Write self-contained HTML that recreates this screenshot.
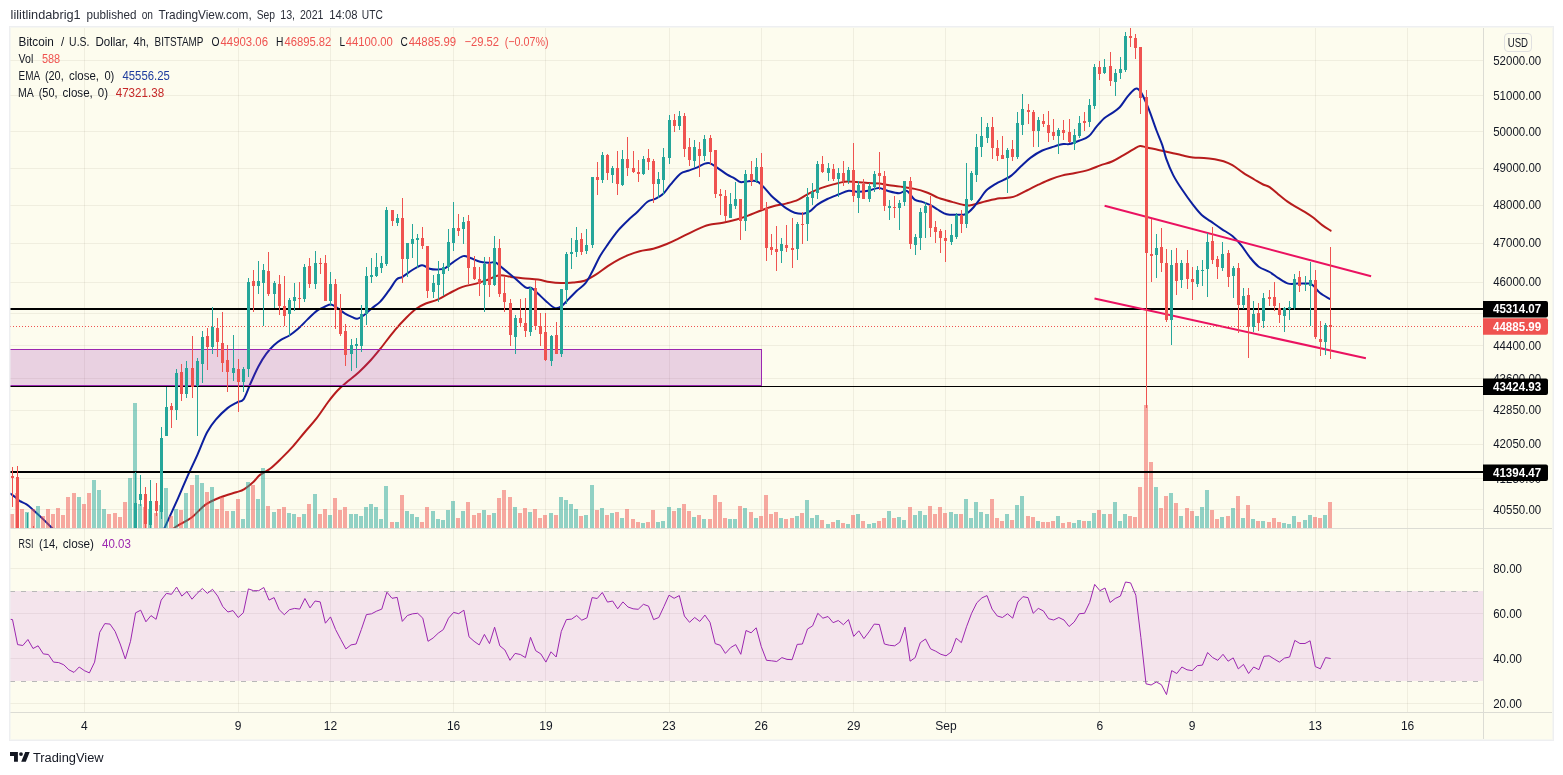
<!DOCTYPE html>
<html lang="en"><head><meta charset="utf-8"><title>BTCUSD 4h chart</title>
<style>html,body{margin:0;padding:0;background:#fff}body{width:1563px;height:775px;overflow:hidden}</style></head>
<body>
<svg width="1563" height="775" viewBox="0 0 1563 775" style="display:block">
<defs><clipPath id="cm"><rect x="10" y="28" width="1473" height="500"/></clipPath><clipPath id="cr"><rect x="10" y="529" width="1473" height="183"/></clipPath></defs>
<rect width="1563" height="775" fill="#ffffff"/>
<rect x="9" y="26" width="1545" height="715" rx="1.5" fill="#eeeff1"/>
<rect x="10" y="27" width="1543" height="713" fill="#fdfcee"/>
<path d="M84.5 28V712M238.5 28V712M330.5 28V712M453.5 28V712M545.5 28V712M669.5 28V712M761.5 28V712M853.5 28V712M945.5 28V712M1099.5 28V712M1192.5 28V712M1315.5 28V712M1407.5 28V712" stroke="rgba(130,120,100,0.1)" stroke-width="1" fill="none" shape-rendering="crispEdges"/>
<path d="M10 60.5H1483M10 95.5H1483M10 131.5H1483M10 168.5H1483M10 205.5H1483M10 243.5H1483M10 282.5H1483M10 313.5H1483M10 345.5H1483M10 378.5H1483M10 410.5H1483M10 444.5H1483M10 478.5H1483M10 509.5H1483M10 568.5H1483M10 613.5H1483M10 658.5H1483M10 703.5H1483" stroke="rgba(130,120,100,0.1)" stroke-width="1" fill="none" shape-rendering="crispEdges"/>
<g clip-path="url(#cm)">
<path d="M171.0 533.0C171.7 532.0 171.8 529.8 175.2 527.2C178.6 524.6 186.7 521.2 191.7 517.5C196.7 513.8 200.4 508.3 205.2 504.9C210.0 501.5 215.5 499.3 220.7 497.2C225.9 495.1 232.3 493.6 236.2 492.3C240.1 491.0 241.0 491.2 243.9 489.4C246.8 487.6 250.9 484.1 253.6 481.7C256.3 479.3 257.3 477.0 260.0 474.9C262.7 472.8 266.4 471.6 270.0 468.8C273.6 466.0 277.7 461.9 281.6 458.1C285.5 454.3 289.3 450.5 293.2 446.1C297.1 441.8 301.0 436.6 304.9 432.0C308.8 427.4 312.6 423.4 316.5 418.4C320.4 413.4 324.6 406.7 328.1 402.0C331.7 397.3 334.6 393.7 337.8 390.3C341.0 386.9 343.9 384.7 347.5 381.6C351.1 378.6 355.2 375.6 359.1 372.0C363.0 368.4 367.1 364.2 370.7 360.3C374.2 356.4 376.4 353.7 380.4 348.7C384.4 343.7 390.5 335.3 394.9 330.1C399.2 324.9 402.9 321.1 406.5 317.5C410.1 313.9 413.0 311.1 416.2 308.8C419.4 306.5 422.2 305.0 425.8 303.5C429.4 302.0 433.6 301.4 437.5 299.7C441.4 298.0 444.9 295.4 449.1 293.3C453.3 291.2 458.1 288.5 462.6 286.9C467.1 285.3 472.0 284.8 476.2 283.6C480.4 282.4 483.9 281.1 487.8 279.7C491.7 278.3 495.5 275.8 499.4 275.3C503.3 274.8 507.1 276.4 511.0 276.9C514.9 277.4 518.1 277.9 522.6 278.3C527.1 278.8 533.6 279.0 538.1 279.6C542.6 280.2 545.8 281.5 549.7 282.1C553.6 282.7 557.4 283.0 561.3 283.1C565.2 283.2 569.1 282.9 573.0 282.5C576.9 282.1 580.7 282.2 584.6 280.8C588.5 279.4 592.3 276.8 596.2 274.4C600.1 271.9 603.8 268.7 607.8 266.1C611.8 263.5 616.6 260.7 620.0 258.9C623.4 257.1 624.8 256.4 628.1 255.1C631.4 253.8 635.5 252.3 639.7 251.2C643.9 250.1 648.8 249.9 653.3 248.7C657.8 247.5 662.6 245.7 666.8 244.0C671.0 242.3 674.5 240.5 678.4 238.6C682.3 236.7 686.2 234.7 690.1 232.8C694.0 230.9 698.5 228.8 701.7 227.4C704.9 226.1 705.9 225.5 709.4 224.7C712.9 223.9 718.4 223.7 722.9 222.8C727.4 221.9 732.3 220.7 736.5 219.5C740.7 218.3 743.9 217.2 748.1 215.6C752.3 214.0 757.5 211.8 761.7 210.2C765.9 208.6 769.1 207.4 773.3 206.3C777.5 205.2 782.6 204.5 786.8 203.4C791.0 202.3 794.5 201.4 798.4 199.6C802.3 197.8 806.2 194.8 810.1 192.8C814.0 190.9 817.8 189.3 821.6 187.9C825.5 186.5 829.3 185.4 833.2 184.4C837.1 183.4 841.0 182.1 844.9 181.7C848.8 181.3 852.6 181.9 856.5 182.1C860.4 182.3 864.2 182.9 868.1 183.1C872.0 183.3 875.8 183.1 879.7 183.5C883.6 183.9 887.4 185.0 891.3 185.6C895.2 186.2 899.1 186.4 903.0 187.0C906.9 187.6 910.7 188.0 914.6 188.9C918.5 189.8 922.3 190.8 926.2 192.2C930.1 193.6 935.2 196.5 937.8 197.6C940.4 198.7 939.5 198.2 942.0 199.0C944.5 199.8 949.2 201.1 952.9 202.1C956.5 203.1 961.1 204.4 963.9 205.0C966.6 205.6 967.2 205.6 969.4 205.4C971.6 205.2 974.4 204.4 977.1 203.7C979.9 203.0 982.1 202.2 985.9 201.3C989.7 200.4 995.1 199.0 999.7 198.3C1004.3 197.6 1008.8 198.2 1013.3 196.9C1017.8 195.6 1022.6 192.5 1026.8 190.5C1031.0 188.5 1034.5 186.5 1038.4 184.7C1042.3 182.9 1046.2 181.0 1050.1 179.5C1054.0 178.0 1057.5 176.7 1061.7 175.6C1065.9 174.5 1070.7 174.0 1075.2 173.1C1079.7 172.2 1084.5 171.2 1088.7 169.9C1092.9 168.6 1096.4 166.8 1100.3 165.4C1104.2 164.0 1108.1 163.2 1112.0 161.5C1115.9 159.8 1120.0 157.1 1123.6 155.1C1127.1 153.1 1130.6 150.8 1133.3 149.3C1136.0 147.8 1137.8 146.3 1140.0 146.0C1142.2 145.7 1143.7 146.8 1146.8 147.4C1149.9 148.1 1154.4 149.0 1158.4 149.9C1162.4 150.8 1167.1 151.8 1171.0 152.7C1174.9 153.6 1178.2 154.5 1181.9 155.3C1185.6 156.1 1189.2 157.1 1192.9 157.5C1196.6 157.9 1200.2 157.7 1203.9 158.0C1207.6 158.3 1211.5 158.8 1214.8 159.3C1218.1 159.9 1220.7 160.3 1223.6 161.3C1226.5 162.3 1229.1 163.3 1232.4 165.2C1235.7 167.1 1239.7 170.5 1243.3 172.9C1246.9 175.3 1251.0 177.6 1254.3 179.5C1257.6 181.4 1260.5 183.2 1263.1 184.5C1265.6 185.8 1267.0 185.4 1269.6 187.1C1272.1 188.8 1275.5 192.0 1278.4 194.4C1281.3 196.8 1284.3 199.3 1287.2 201.4C1290.1 203.5 1293.0 205.2 1295.9 206.9C1298.8 208.7 1301.8 210.1 1304.7 211.9C1307.6 213.7 1310.6 215.6 1313.5 217.8C1316.4 220.0 1319.4 223.0 1322.2 225.1C1325.0 227.2 1329.2 229.7 1330.6 230.6" stroke="#b71c1c" stroke-width="2" fill="none" stroke-linejoin="round" stroke-linecap="round"/>
<path d="M10.0 493.5C10.2 493.6 10.1 493.4 10.9 494.0C11.7 494.6 13.6 495.8 15.0 496.9C16.4 498.0 17.7 499.6 19.6 500.9C21.5 502.1 24.3 502.8 26.6 504.4C28.9 505.9 30.8 507.8 33.5 510.2C36.2 512.6 39.9 516.1 42.8 518.9C45.7 521.7 49.0 525.0 51.0 527.0C53.0 529.0 54.3 530.3 55.0 531.0" stroke="#0c1f9e" stroke-width="2" fill="none" stroke-linejoin="round"/>
<path d="M162.5 533.0C162.9 532.0 162.3 533.0 164.9 527.2C167.5 521.4 174.4 506.3 178.1 498.1C181.8 489.9 183.6 485.1 186.8 477.8C190.0 470.6 194.1 462.2 197.5 454.6C200.9 447.0 204.0 438.1 207.1 432.3C210.2 426.5 212.4 423.7 215.8 419.7C219.2 415.7 223.9 411.0 227.5 408.1C231.1 405.2 234.4 403.8 237.1 402.3C239.8 400.9 241.2 402.6 243.5 399.4C245.8 396.2 248.2 388.5 250.7 383.0C253.2 377.5 255.8 371.4 258.4 366.5C261.0 361.6 263.6 357.4 266.2 353.9C268.8 350.3 271.3 347.6 273.9 345.2C276.5 342.8 279.1 341.0 281.7 339.4C284.3 337.8 286.7 337.3 289.4 335.5C292.1 333.7 295.0 331.5 298.1 328.8C301.2 326.1 304.6 322.2 307.8 319.1C311.0 316.0 314.6 312.5 317.5 310.4C320.4 308.3 322.9 307.5 325.2 306.5C327.4 305.5 329.1 304.4 331.0 304.6C332.9 304.8 334.5 306.1 336.8 307.5C339.1 308.9 342.0 311.7 344.6 313.3C347.2 314.9 350.2 316.2 352.3 317.1C354.4 318.0 355.3 319.0 357.2 318.7C359.1 318.4 361.5 316.9 363.9 315.2C366.3 313.5 369.0 310.7 371.7 308.4C374.4 306.1 377.4 304.6 380.3 301.6C383.2 298.6 386.2 294.1 389.0 290.4C391.8 286.7 394.5 281.6 396.8 279.3C399.1 277.0 400.0 278.4 402.6 276.8C405.2 275.2 409.1 271.9 412.3 270.0C415.5 268.1 419.1 265.4 422.0 265.2C424.9 265.0 427.1 268.0 429.7 268.7C432.3 269.4 434.9 269.6 437.5 269.5C440.1 269.4 442.6 269.3 445.2 268.1C447.8 266.9 449.9 264.3 452.9 262.3C455.9 260.3 460.3 256.8 463.2 256.1C466.1 255.4 467.6 257.1 470.4 258.0C473.2 258.9 476.9 260.9 480.1 261.7C483.3 262.5 487.1 262.7 489.7 262.8C492.3 262.9 493.2 261.4 495.5 262.4C497.8 263.4 500.0 266.0 503.2 268.6C506.4 271.2 511.2 275.2 514.9 278.3C518.6 281.4 522.8 285.8 525.5 287.4C528.2 289.0 529.2 286.8 531.3 287.9C533.4 288.9 535.7 291.5 538.1 293.7C540.5 295.9 543.0 298.5 545.8 300.9C548.5 303.3 552.0 307.0 554.6 307.9C557.2 308.8 558.9 307.9 561.3 306.3C563.7 304.8 566.5 301.2 569.1 298.6C571.7 296.0 574.1 293.4 576.8 290.8C579.5 288.2 582.9 286.3 585.5 283.1C588.1 279.9 589.9 276.0 592.3 271.5C594.7 267.0 597.5 260.5 600.1 256.0C602.7 251.5 605.2 248.1 607.8 244.4C610.4 240.7 613.5 236.4 615.6 233.7C617.7 231.0 618.2 230.2 620.3 228.0C622.4 225.8 625.2 222.9 628.1 220.2C631.0 217.4 634.6 214.6 637.8 211.5C641.0 208.4 644.6 203.9 647.5 201.8C650.4 199.7 652.6 200.2 655.2 198.9C657.8 197.6 660.4 196.5 663.0 194.1C665.6 191.7 667.8 187.8 670.7 184.4C673.6 181.0 677.5 176.0 680.4 173.7C683.3 171.4 685.5 171.8 688.1 170.8C690.7 169.8 693.3 169.0 695.9 167.9C698.5 166.8 701.4 164.9 703.6 164.1C705.9 163.3 707.1 162.5 709.4 163.1C711.6 163.7 714.2 165.7 717.1 167.6C720.0 169.5 723.9 172.6 726.8 174.4C729.7 176.2 732.2 177.0 734.5 178.3C736.8 179.6 738.0 181.6 740.3 182.1C742.6 182.6 745.4 181.3 748.1 181.2C750.9 181.0 754.2 180.2 756.8 181.2C759.4 182.2 761.2 184.6 763.6 187.0C766.0 189.4 768.7 193.1 771.3 195.7C773.9 198.3 776.5 200.3 779.1 202.5C781.7 204.7 784.2 207.0 786.8 208.7C789.4 210.4 791.9 211.9 794.6 212.7C797.4 213.5 800.7 213.9 803.3 213.7C805.9 213.4 807.7 212.8 810.1 211.2C812.5 209.6 814.9 206.4 817.8 204.4C820.7 202.4 823.9 200.7 827.4 199.0C830.9 197.3 835.5 195.7 839.0 194.3C842.5 192.9 845.5 191.2 848.7 190.8C851.9 190.4 855.2 191.8 858.4 191.8C861.6 191.8 864.7 191.5 868.1 190.8C871.5 190.2 875.5 187.9 878.7 187.9C881.9 187.9 884.1 189.9 887.5 190.8C890.9 191.7 895.9 193.2 899.1 193.2C902.3 193.2 904.2 189.7 906.8 190.8C909.4 191.9 912.0 197.8 914.6 199.6C917.2 201.4 919.6 200.9 922.3 201.9C925.0 202.9 928.5 204.1 931.0 205.4C933.5 206.7 935.4 208.2 937.6 209.5C939.8 210.8 942.1 212.4 944.1 213.3C946.1 214.2 947.6 214.5 949.6 214.7C951.6 214.9 953.8 214.7 956.2 214.7C958.6 214.7 961.9 215.1 963.9 214.7C965.9 214.3 966.6 213.8 968.3 212.5C969.9 211.2 972.0 209.1 973.8 207.0C975.6 204.9 977.2 202.7 979.3 199.9C981.4 197.2 983.5 193.2 986.2 190.5C989.0 187.8 992.9 185.6 995.8 183.8C998.7 182.0 1001.0 181.3 1003.6 179.9C1006.2 178.5 1008.4 177.9 1011.3 175.6C1014.2 173.3 1017.8 169.3 1021.0 166.3C1024.2 163.3 1027.2 160.2 1030.7 157.6C1034.2 155.0 1038.4 152.3 1042.3 150.5C1046.2 148.7 1050.4 147.7 1053.9 146.6C1057.5 145.5 1061.0 144.5 1063.6 144.1C1066.2 143.7 1066.8 144.6 1069.4 144.1C1072.0 143.6 1075.8 142.1 1079.0 140.8C1082.2 139.5 1085.8 138.7 1088.7 136.3C1091.6 134.0 1093.9 129.7 1096.5 126.7C1099.1 123.7 1101.6 120.6 1104.2 118.3C1106.8 116.0 1109.4 114.9 1112.0 113.1C1114.6 111.3 1117.1 110.0 1119.7 107.3C1122.3 104.5 1124.9 99.7 1127.5 96.6C1130.1 93.5 1133.3 90.0 1135.2 88.9C1137.1 87.8 1137.8 88.8 1139.1 89.9C1140.4 91.0 1141.3 92.5 1142.9 95.7C1144.5 98.9 1146.5 103.4 1148.8 109.2C1151.1 115.0 1154.2 124.5 1156.5 130.5C1158.8 136.5 1160.7 140.4 1162.3 145.1C1163.9 149.8 1164.4 153.6 1166.2 158.6C1168.0 163.6 1170.6 170.0 1173.2 175.1C1175.8 180.2 1178.6 184.4 1181.9 189.3C1185.2 194.2 1189.6 200.4 1192.9 204.7C1196.2 209.0 1198.8 212.3 1201.7 215.0C1204.6 217.7 1207.1 218.8 1210.4 221.1C1213.7 223.4 1217.7 226.3 1221.4 228.8C1225.1 231.3 1229.1 233.3 1232.4 236.0C1235.7 238.7 1238.2 241.6 1241.1 245.2C1244.0 248.8 1247.0 253.7 1249.9 257.3C1252.8 260.9 1255.4 264.2 1258.7 266.7C1262.0 269.1 1266.3 270.1 1269.6 272.0C1272.9 273.9 1275.3 276.2 1278.4 278.1C1281.5 280.0 1285.0 282.7 1288.3 283.6C1291.6 284.5 1294.6 283.6 1298.1 283.6C1301.6 283.6 1306.5 283.2 1309.1 283.6C1311.7 284.0 1311.7 284.2 1313.5 285.8C1315.3 287.4 1317.4 290.8 1320.1 293.0C1322.8 295.2 1328.3 298.0 1329.9 299.0" stroke="#0c1f9e" stroke-width="2" fill="none" stroke-linejoin="round" stroke-linecap="round"/>
<path d="M25 512h4V528h-4zM36 506h4V528h-4zM77 497h4V528h-4zM92 480h4V528h-4zM97 490h4V528h-4zM102 509h4V528h-4zM128 478h4V528h-4zM133 403h4V528h-4zM138 504h4V528h-4zM148 509h4V528h-4zM159 505h4V528h-4zM164 488h4V528h-4zM174 509h4V528h-4zM184 493h4V528h-4zM195 475h4V528h-4zM200 483h4V528h-4zM210 487h4V528h-4zM231 511h4V528h-4zM241 519h4V528h-4zM246 482h4V528h-4zM256 499h4V528h-4zM261 468h4V528h-4zM272 512h4V528h-4zM287 513h4V528h-4zM292 514h4V528h-4zM302 514h4V528h-4zM313 494h4V528h-4zM328 515h4V528h-4zM349 514h4V528h-4zM354 514h4V528h-4zM359 516h4V528h-4zM364 507h4V528h-4zM369 504h4V528h-4zM374 507h4V528h-4zM379 519h4V528h-4zM384 486h4V528h-4zM395 522h4V528h-4zM405 511h4V528h-4zM410 514h4V528h-4zM415 517h4V528h-4zM431 511h4V528h-4zM436 519h4V528h-4zM441 520h4V528h-4zM446 510h4V528h-4zM451 501h4V528h-4zM461 511h4V528h-4zM482 510h4V528h-4zM492 513h4V528h-4zM513 507h4V528h-4zM528 512h4V528h-4zM549 513h4V528h-4zM559 497h4V528h-4zM564 500h4V528h-4zM569 504h4V528h-4zM574 509h4V528h-4zM584 515h4V528h-4zM590 485h4V528h-4zM600 508h4V528h-4zM610 513h4V528h-4zM620 518h4V528h-4zM641 523h4V528h-4zM656 522h4V528h-4zM661 521h4V528h-4zM667 507h4V528h-4zM677 508h4V528h-4zM692 517h4V528h-4zM702 519h4V528h-4zM728 519h4V528h-4zM733 519h4V528h-4zM743 508h4V528h-4zM754 518h4V528h-4zM779 518h4V528h-4zM795 516h4V528h-4zM805 500h4V528h-4zM810 518h4V528h-4zM815 515h4V528h-4zM826 524h4V528h-4zM836 520h4V528h-4zM846 524h4V528h-4zM856 514h4V528h-4zM867 524h4V528h-4zM872 523h4V528h-4zM887 511h4V528h-4zM897 517h4V528h-4zM902 520h4V528h-4zM913 515h4V528h-4zM918 511h4V528h-4zM923 515h4V528h-4zM949 512h4V528h-4zM954 514h4V528h-4zM964 499h4V528h-4zM969 518h4V528h-4zM974 502h4V528h-4zM979 512h4V528h-4zM985 514h4V528h-4zM1005 514h4V528h-4zM1015 505h4V528h-4zM1020 496h4V528h-4zM1036 521h4V528h-4zM1056 516h4V528h-4zM1072 523h4V528h-4zM1077 520h4V528h-4zM1087 521h4V528h-4zM1092 513h4V528h-4zM1102 514h4V528h-4zM1113 502h4V528h-4zM1118 521h4V528h-4zM1123 514h4V528h-4zM1154 487h4V528h-4zM1169 493h4V528h-4zM1179 516h4V528h-4zM1195 516h4V528h-4zM1200 507h4V528h-4zM1205 490h4V528h-4zM1220 517h4V528h-4zM1231 508h4V528h-4zM1241 518h4V528h-4zM1251 519h4V528h-4zM1261 521h4V528h-4zM1282 523h4V528h-4zM1287 524h4V528h-4zM1292 516h4V528h-4zM1303 520h4V528h-4zM1308 515h4V528h-4zM1323 515h4V528h-4z" fill="rgba(38,166,154,0.5)" shape-rendering="crispEdges"/>
<path d="M10 514h4V528h-4zM15 493h4V528h-4zM20 509h4V528h-4zM31 509h4V528h-4zM41 516h4V528h-4zM46 509h4V528h-4zM51 514h4V528h-4zM56 508h4V528h-4zM61 515h4V528h-4zM66 497h4V528h-4zM72 493h4V528h-4zM82 504h4V528h-4zM87 493h4V528h-4zM107 514h4V528h-4zM113 513h4V528h-4zM118 517h4V528h-4zM123 502h4V528h-4zM143 507h4V528h-4zM154 513h4V528h-4zM169 516h4V528h-4zM179 510h4V528h-4zM190 485h4V528h-4zM205 492h4V528h-4zM215 509h4V528h-4zM220 497h4V528h-4zM225 511h4V528h-4zM236 499h4V528h-4zM251 485h4V528h-4zM266 506h4V528h-4zM277 509h4V528h-4zM282 507h4V528h-4zM297 517h4V528h-4zM307 504h4V528h-4zM318 514h4V528h-4zM323 509h4V528h-4zM333 498h4V528h-4zM338 510h4V528h-4zM343 507h4V528h-4zM390 522h4V528h-4zM400 495h4V528h-4zM420 522h4V528h-4zM425 507h4V528h-4zM456 518h4V528h-4zM466 502h4V528h-4zM472 515h4V528h-4zM477 513h4V528h-4zM487 515h4V528h-4zM497 498h4V528h-4zM502 490h4V528h-4zM508 497h4V528h-4zM518 513h4V528h-4zM523 508h4V528h-4zM533 509h4V528h-4zM538 518h4V528h-4zM543 515h4V528h-4zM554 515h4V528h-4zM579 516h4V528h-4zM595 510h4V528h-4zM605 515h4V528h-4zM615 512h4V528h-4zM625 509h4V528h-4zM631 519h4V528h-4zM636 522h4V528h-4zM646 522h4V528h-4zM651 510h4V528h-4zM672 511h4V528h-4zM682 504h4V528h-4zM687 511h4V528h-4zM697 515h4V528h-4zM708 519h4V528h-4zM713 495h4V528h-4zM718 502h4V528h-4zM723 518h4V528h-4zM738 506h4V528h-4zM749 512h4V528h-4zM759 516h4V528h-4zM764 495h4V528h-4zM769 514h4V528h-4zM774 512h4V528h-4zM784 519h4V528h-4zM790 518h4V528h-4zM800 513h4V528h-4zM820 520h4V528h-4zM831 522h4V528h-4zM841 523h4V528h-4zM851 515h4V528h-4zM861 521h4V528h-4zM877 521h4V528h-4zM882 518h4V528h-4zM892 518h4V528h-4zM908 507h4V528h-4zM928 506h4V528h-4zM933 514h4V528h-4zM938 507h4V528h-4zM943 513h4V528h-4zM959 514h4V528h-4zM990 499h4V528h-4zM995 518h4V528h-4zM1000 521h4V528h-4zM1010 520h4V528h-4zM1026 516h4V528h-4zM1031 517h4V528h-4zM1041 522h4V528h-4zM1046 522h4V528h-4zM1051 521h4V528h-4zM1061 523h4V528h-4zM1067 522h4V528h-4zM1082 521h4V528h-4zM1097 510h4V528h-4zM1108 514h4V528h-4zM1128 516h4V528h-4zM1133 517h4V528h-4zM1138 487h4V528h-4zM1144 405h4V528h-4zM1149 462h4V528h-4zM1159 508h4V528h-4zM1164 496h4V528h-4zM1174 503h4V528h-4zM1185 508h4V528h-4zM1190 511h4V528h-4zM1210 510h4V528h-4zM1215 519h4V528h-4zM1226 516h4V528h-4zM1236 496h4V528h-4zM1246 505h4V528h-4zM1256 521h4V528h-4zM1267 522h4V528h-4zM1272 518h4V528h-4zM1277 522h4V528h-4zM1297 522h4V528h-4zM1313 517h4V528h-4zM1318 518h4V528h-4zM1328 502h4V528h-4z" fill="rgba(239,83,80,0.5)" shape-rendering="crispEdges"/>
<rect x="0.5" y="349.5" width="761" height="36" fill="rgba(156,39,176,0.2)" stroke="#9c27b0" stroke-width="1"/>
<rect x="10" y="308" width="1473" height="2" fill="#000"/>
<rect x="10" y="386" width="1473" height="1" fill="#000"/>
<rect x="10" y="471" width="1473" height="2" fill="#000"/>
<path d="M1104.6 205.7L1371.1 276.3M1094.5 298.6L1365.9 358.2" stroke="#ea1260" stroke-width="2" fill="none"/>
<path d="M10 326.5H1483" stroke="#ef5350" stroke-width="1" stroke-dasharray="1 2" shape-rendering="crispEdges"/>
<path d="M27 513h1V540h-1zM26 535h3V540h-3zM135 472h1V540h-1zM134 503h3V540h-3zM140 475h1V506h-1zM139 494h3V500h-3zM150 480h1V535h-1zM149 501h3V525h-3zM161 427h1V519h-1zM160 438h3V512h-3zM166 387h1V436h-1zM165 407h3V436h-3zM176 369h1V420h-1zM175 373h3V410h-3zM186 361h1V398h-1zM185 368h3V394h-3zM197 358h1V436h-1zM196 361h3V386h-3zM202 331h1V383h-1zM201 337h3V364h-3zM212 307h1V354h-1zM211 327h3V347h-3zM233 335h1V381h-1zM232 368h3V373h-3zM243 367h1V392h-1zM242 369h3V382h-3zM248 278h1V377h-1zM247 282h3V369h-3zM258 261h1V294h-1zM257 281h3V286h-3zM263 264h1V326h-1zM262 270h3V283h-3zM274 281h1V308h-1zM273 283h3V294h-3zM289 298h1V336h-1zM288 300h3V314h-3zM294 283h1V311h-1zM293 297h3V301h-3zM304 264h1V302h-1zM303 267h3V299h-3zM315 251h1V289h-1zM314 263h3V284h-3zM330 272h1V306h-1zM329 284h3V301h-3zM351 339h1V371h-1zM350 345h3V354h-3zM356 338h1V368h-1zM355 344h3V346h-3zM361 305h1V352h-1zM360 314h3V346h-3zM366 267h1V325h-1zM365 276h3V314h-3zM371 258h1V283h-1zM370 275h3V277h-3zM376 253h1V277h-1zM375 267h3V276h-3zM381 256h1V273h-1zM380 263h3V268h-3zM386 207h1V266h-1zM385 210h3V264h-3zM397 214h1V226h-1zM396 218h3V223h-3zM407 243h1V277h-1zM406 243h3V259h-3zM412 224h1V258h-1zM411 239h3V244h-3zM417 234h1V268h-1zM416 238h3V240h-3zM433 275h1V298h-1zM432 283h3V292h-3zM438 261h1V302h-1zM437 274h3V285h-3zM443 263h1V296h-1zM442 267h3V274h-3zM448 229h1V271h-1zM447 242h3V267h-3zM453 202h1V251h-1zM452 228h3V243h-3zM463 217h1V244h-1zM462 222h3V229h-3zM484 257h1V312h-1zM483 264h3V285h-3zM494 236h1V286h-1zM493 248h3V285h-3zM515 315h1V354h-1zM514 318h3V337h-3zM530 287h1V336h-1zM529 288h3V332h-3zM551 335h1V366h-1zM550 336h3V361h-3zM561 289h1V357h-1zM560 289h3V354h-3zM566 252h1V304h-1zM565 254h3V290h-3zM571 238h1V269h-1zM570 252h3V254h-3zM576 227h1V257h-1zM575 240h3V252h-3zM586 229h1V254h-1zM585 245h3V251h-3zM592 177h1V248h-1zM591 177h3V245h-3zM602 152h1V183h-1zM601 155h3V180h-3zM612 166h1V183h-1zM611 168h3V175h-3zM622 150h1V186h-1zM621 159h3V185h-3zM643 156h1V175h-1zM642 159h3V174h-3zM658 172h1V198h-1zM657 179h3V184h-3zM663 148h1V195h-1zM662 157h3V180h-3zM669 115h1V164h-1zM668 120h3V158h-3zM679 111h1V130h-1zM678 116h3V126h-3zM694 140h1V167h-1zM693 147h3V161h-3zM704 135h1V161h-1zM703 139h3V156h-3zM730 193h1V218h-1zM729 204h3V218h-3zM735 182h1V209h-1zM734 199h3V206h-3zM745 170h1V231h-1zM744 174h3V221h-3zM756 158h1V183h-1zM755 167h3V181h-3zM781 238h1V263h-1zM780 244h3V251h-3zM797 222h1V260h-1zM796 224h3V249h-3zM807 188h1V241h-1zM806 197h3V224h-3zM812 183h1V205h-1zM811 192h3V198h-3zM817 161h1V199h-1zM816 164h3V193h-3zM828 163h1V181h-1zM827 168h3V173h-3zM838 168h1V197h-1zM837 173h3V179h-3zM848 167h1V184h-1zM847 170h3V181h-3zM858 181h1V213h-1zM857 185h3V198h-3zM869 183h1V202h-1zM868 186h3V199h-3zM874 171h1V192h-1zM873 174h3V187h-3zM889 200h1V220h-1zM888 206h3V208h-3zM899 200h1V230h-1zM898 203h3V208h-3zM904 181h1V206h-1zM903 181h3V202h-3zM915 234h1V255h-1zM914 237h3V245h-3zM920 208h1V250h-1zM919 212h3V238h-3zM925 202h1V238h-1zM924 206h3V213h-3zM951 224h1V245h-1zM950 235h3V242h-3zM956 213h1V239h-1zM955 215h3V237h-3zM966 163h1V228h-1zM965 199h3V224h-3zM971 171h1V201h-1zM970 173h3V200h-3zM976 134h1V182h-1zM975 147h3V175h-3zM981 117h1V157h-1zM980 136h3V147h-3zM987 123h1V143h-1zM986 127h3V138h-3zM1007 148h1V193h-1zM1006 150h3V158h-3zM1017 112h1V159h-1zM1016 123h3V157h-3zM1022 94h1V135h-1zM1021 109h3V125h-3zM1038 117h1V147h-1zM1037 120h3V131h-3zM1058 128h1V154h-1zM1057 130h3V136h-3zM1074 129h1V150h-1zM1073 135h3V144h-3zM1079 116h1V138h-1zM1078 123h3V136h-3zM1089 99h1V127h-1zM1088 105h3V122h-3zM1094 64h1V109h-1zM1093 67h3V106h-3zM1104 59h1V74h-1zM1103 67h3V73h-3zM1115 69h1V96h-1zM1114 73h3V82h-3zM1120 57h1V79h-1zM1119 69h3V73h-3zM1125 32h1V72h-1zM1124 36h3V70h-3zM1156 234h1V278h-1zM1155 248h3V255h-3zM1171 250h1V345h-1zM1170 265h3V320h-3zM1181 260h1V288h-1zM1180 263h3V280h-3zM1197 266h1V287h-1zM1196 270h3V284h-3zM1202 260h1V286h-1zM1201 270h3V271h-3zM1207 233h1V297h-1zM1206 242h3V269h-3zM1222 242h1V271h-1zM1221 254h3V268h-3zM1233 266h1V298h-1zM1232 268h3V276h-3zM1243 288h1V309h-1zM1242 296h3V305h-3zM1253 301h1V332h-1zM1252 314h3V327h-3zM1263 293h1V328h-1zM1262 298h3V321h-3zM1284 307h1V332h-1zM1283 308h3V316h-3zM1289 301h1V320h-1zM1288 307h3V309h-3zM1294 274h1V310h-1zM1293 279h3V308h-3zM1305 276h1V291h-1zM1304 284h3V285h-3zM1310 262h1V326h-1zM1309 280h3V286h-3zM1325 323h1V355h-1zM1324 325h3V342h-3z" fill="#26a69a" shape-rendering="crispEdges"/>
<path d="M12 467h1V507h-1zM11 476h3V478h-3zM17 466h1V540h-1zM16 477h3V540h-3zM33 526h1V540h-1zM32 535h3V540h-3zM145 487h1V535h-1zM144 494h3V524h-3zM156 483h1V516h-1zM155 501h3V511h-3zM171 403h1V428h-1zM170 406h3V410h-3zM181 364h1V401h-1zM180 372h3V394h-3zM192 336h1V398h-1zM191 368h3V387h-3zM207 328h1V370h-1zM206 336h3V347h-3zM217 318h1V357h-1zM216 328h3V342h-3zM222 312h1V372h-1zM221 343h3V363h-3zM227 345h1V392h-1zM226 360h3V372h-3zM238 359h1V412h-1zM237 369h3V382h-3zM253 270h1V312h-1zM252 281h3V286h-3zM268 252h1V296h-1zM267 271h3V294h-3zM279 275h1V315h-1zM278 284h3V306h-3zM284 276h1V326h-1zM283 306h3V316h-3zM299 282h1V308h-1zM298 298h3V299h-3zM309 258h1V288h-1zM308 266h3V284h-3zM320 258h1V274h-1zM319 263h3V264h-3zM325 255h1V301h-1zM324 263h3V301h-3zM335 279h1V329h-1zM334 284h3V310h-3zM340 294h1V336h-1zM339 310h3V334h-3zM345 324h1V366h-1zM344 331h3V355h-3zM392 210h1V226h-1zM391 210h3V221h-3zM402 198h1V283h-1zM401 218h3V259h-3zM422 227h1V249h-1zM421 238h3V246h-3zM427 246h1V298h-1zM426 246h3V291h-3zM458 214h1V236h-1zM457 228h3V231h-3zM468 215h1V284h-1zM467 221h3V268h-3zM474 256h1V280h-1zM473 267h3V279h-3zM479 267h1V296h-1zM478 279h3V284h-3zM489 257h1V297h-1zM488 264h3V285h-3zM499 239h1V297h-1zM498 248h3V294h-3zM504 276h1V312h-1zM503 293h3V302h-3zM510 299h1V346h-1zM509 303h3V335h-3zM520 299h1V327h-1zM519 318h3V323h-3zM525 298h1V337h-1zM524 323h3V331h-3zM535 280h1V330h-1zM534 288h3V326h-3zM540 313h1V346h-1zM539 326h3V334h-3zM545 313h1V361h-1zM544 332h3V360h-3zM556 322h1V354h-1zM555 335h3V354h-3zM581 233h1V255h-1zM580 239h3V252h-3zM597 162h1V195h-1zM596 177h3V180h-3zM607 154h1V180h-1zM606 155h3V173h-3zM617 151h1V195h-1zM616 168h3V184h-3zM627 137h1V176h-1zM626 159h3V168h-3zM633 151h1V173h-1zM632 168h3V172h-3zM638 160h1V182h-1zM637 172h3V174h-3zM648 149h1V170h-1zM647 158h3V162h-3zM653 159h1V203h-1zM652 161h3V184h-3zM674 114h1V132h-1zM673 120h3V126h-3zM684 113h1V157h-1zM683 116h3V149h-3zM689 138h1V166h-1zM688 147h3V160h-3zM699 142h1V177h-1zM698 149h3V156h-3zM710 135h1V165h-1zM709 138h3V152h-3zM715 150h1V198h-1zM714 150h3V194h-3zM720 189h1V215h-1zM719 194h3V196h-3zM725 190h1V221h-1zM724 196h3V216h-3zM740 199h1V240h-1zM739 199h3V221h-3zM751 161h1V186h-1zM750 174h3V181h-3zM761 153h1V210h-1zM760 167h3V210h-3zM766 202h1V261h-1zM765 208h3V248h-3zM771 234h1V255h-1zM770 247h3V250h-3zM776 226h1V271h-1zM775 249h3V252h-3zM786 225h1V252h-1zM785 245h3V248h-3zM792 218h1V268h-1zM791 248h3V250h-3zM802 212h1V244h-1zM801 224h3V225h-3zM822 156h1V173h-1zM821 164h3V172h-3zM833 164h1V181h-1zM832 169h3V179h-3zM843 161h1V186h-1zM842 173h3V181h-3zM853 143h1V202h-1zM852 170h3V196h-3zM863 179h1V199h-1zM862 184h3V199h-3zM879 152h1V190h-1zM878 173h3V176h-3zM884 171h1V211h-1zM883 176h3V206h-3zM894 196h1V218h-1zM893 207h3V208h-3zM910 177h1V249h-1zM909 181h3V244h-3zM930 196h1V237h-1zM929 205h3V228h-3zM935 221h1V243h-1zM934 227h3V232h-3zM940 229h1V253h-1zM939 231h3V238h-3zM945 230h1V262h-1zM944 238h3V241h-3zM961 210h1V233h-1zM960 215h3V224h-3zM992 117h1V159h-1zM991 127h3V148h-3zM997 140h1V161h-1zM996 148h3V156h-3zM1002 136h1V159h-1zM1001 155h3V159h-3zM1012 140h1V161h-1zM1011 149h3V157h-3zM1028 104h1V124h-1zM1027 110h3V112h-3zM1033 110h1V147h-1zM1032 112h3V131h-3zM1043 114h1V127h-1zM1042 121h3V124h-3zM1048 111h1V142h-1zM1047 125h3V133h-3zM1053 119h1V140h-1zM1052 132h3V136h-3zM1063 120h1V140h-1zM1062 130h3V133h-3zM1069 119h1V143h-1zM1068 132h3V142h-3zM1084 112h1V131h-1zM1083 121h3V123h-3zM1099 61h1V80h-1zM1098 67h3V74h-3zM1110 52h1V86h-1zM1109 66h3V81h-3zM1130 27h1V47h-1zM1129 36h3V38h-3zM1135 34h1V59h-1zM1134 38h3V48h-3zM1140 47h1V114h-1zM1139 47h3V98h-3zM1146 90h1V408h-1zM1145 97h3V253h-3zM1151 219h1V282h-1zM1150 254h3V256h-3zM1161 228h1V272h-1zM1160 247h3V263h-3zM1166 249h1V322h-1zM1165 263h3V320h-3zM1176 248h1V295h-1zM1175 263h3V281h-3zM1187 250h1V289h-1zM1186 263h3V279h-3zM1192 267h1V300h-1zM1191 279h3V282h-3zM1212 227h1V264h-1zM1211 241h3V260h-3zM1217 256h1V279h-1zM1216 259h3V267h-3zM1228 250h1V287h-1zM1227 253h3V277h-3zM1238 263h1V333h-1zM1237 268h3V305h-3zM1248 288h1V358h-1zM1247 295h3V327h-3zM1258 303h1V331h-1zM1257 313h3V323h-3zM1269 290h1V306h-1zM1268 297h3V299h-3zM1274 282h1V311h-1zM1273 297h3V306h-3zM1279 303h1V323h-1zM1278 308h3V315h-3zM1299 271h1V292h-1zM1298 277h3V286h-3zM1315 270h1V339h-1zM1314 280h3V337h-3zM1320 321h1V356h-1zM1319 339h3V342h-3zM1330 247h1V359h-1zM1329 325h3V327h-3z" fill="#ef5350" shape-rendering="crispEdges"/>
</g>
<path d="M10 528.5H1552M10 712.5H1552M1483.5 28V739" stroke="#dcdcd4" stroke-width="1" fill="none" shape-rendering="crispEdges"/>
<g clip-path="url(#cr)">
<rect x="10" y="591.0" width="1473" height="90.0" fill="rgba(170,20,230,0.1)"/>
<path d="M10 591.5H1483M10 681.5H1483" stroke="#b8b8b8" stroke-width="1" stroke-dasharray="5 6" fill="none" shape-rendering="crispEdges"/>
<path d="M10.4 619.3L12.5 619.6L17.6 644.6L22.8 645.5L27.9 639.5L33.0 648.5L38.1 645.8L43.3 653.9L48.4 654.5L53.5 662.1L58.7 662.6L63.8 664.8L68.9 669.8L74.0 672.4L79.2 667.0L84.3 670.6L89.4 672.9L94.6 662.1L99.7 632.3L104.8 623.6L110.0 624.1L115.1 631.4L120.2 644.0L125.3 659.0L130.5 641.3L135.6 612.8L140.7 610.2L145.9 621.8L151.0 615.6L156.1 619.3L161.2 600.1L166.4 593.4L171.5 594.3L176.6 587.1L181.8 596.1L186.9 591.6L192.0 599.2L197.1 593.4L202.3 588.5L207.4 593.4L212.5 589.3L217.7 596.1L222.8 606.6L227.9 612.0L233.0 610.6L238.2 617.5L243.3 612.8L248.4 588.9L253.6 590.7L258.7 590.7L263.8 587.5L269.0 600.1L274.1 597.6L279.2 609.7L284.3 614.7L289.5 609.7L294.6 608.4L299.7 609.1L304.9 598.5L310.0 607.9L315.1 601.0L320.2 601.9L325.4 623.2L330.5 616.9L335.6 629.6L340.8 639.5L345.9 648.9L351.0 644.9L356.1 644.0L361.3 629.6L366.4 614.6L371.5 613.8L376.7 611.1L381.8 609.1L386.9 592.2L392.0 598.3L397.2 597.4L402.3 621.4L407.4 615.5L412.6 613.8L417.7 613.3L422.8 618.2L428.0 641.3L433.1 638.0L438.2 633.2L443.3 629.6L448.5 618.2L453.6 612.4L458.7 613.7L463.9 610.2L469.0 636.8L474.1 641.3L479.2 644.9L484.4 634.4L489.5 643.6L494.6 627.2L499.8 645.8L504.9 650.0L510.0 660.3L515.1 653.4L520.3 654.5L525.4 657.6L530.5 637.3L535.7 650.7L540.8 653.9L545.9 662.1L551.0 651.8L556.2 657.0L561.3 631.4L566.4 619.6L571.6 619.1L576.7 615.5L581.8 620.2L587.0 617.8L592.1 597.6L597.2 598.5L602.3 592.5L607.5 602.1L612.6 601.0L617.7 608.8L622.9 601.9L628.0 607.0L633.1 608.8L638.2 609.3L643.4 604.3L648.5 606.1L653.6 619.6L658.8 617.5L663.9 606.6L669.0 595.2L674.1 598.3L679.3 595.6L684.4 616.0L689.5 622.3L694.7 617.5L699.8 621.4L704.9 615.1L710.0 622.3L715.2 643.6L720.3 645.3L725.4 653.4L730.6 647.6L735.7 644.6L740.8 654.3L746.0 630.5L751.1 632.8L756.2 627.8L761.3 646.7L766.5 660.3L771.6 660.8L776.7 661.5L781.9 657.6L787.0 659.4L792.1 659.7L797.2 644.4L802.4 644.0L807.5 629.0L812.6 625.9L817.8 613.3L822.9 618.2L828.0 616.5L833.1 622.7L838.3 620.5L843.4 624.7L848.5 619.6L853.7 636.4L858.8 630.8L863.9 638.6L869.0 631.9L874.2 624.1L879.3 624.5L884.4 644.0L889.6 645.3L894.7 645.8L899.8 642.2L905.0 627.2L910.1 661.2L915.2 657.6L920.3 642.7L925.5 639.0L930.6 648.9L935.7 651.2L940.9 654.3L946.0 655.8L951.1 652.1L956.2 638.2L961.4 642.6L966.5 626.8L971.6 613.3L976.8 602.8L981.9 597.9L987.0 595.6L992.1 609.1L997.3 616.0L1002.4 617.5L1007.5 613.8L1012.7 618.2L1017.8 602.1L1022.9 596.7L1028.0 597.6L1033.2 613.3L1038.3 608.4L1043.4 610.9L1048.6 618.7L1053.7 620.0L1058.8 617.5L1064.0 620.0L1069.1 626.5L1074.2 622.0L1079.3 613.7L1084.5 613.3L1089.6 602.5L1094.7 584.4L1099.9 590.7L1105.0 588.0L1110.1 602.5L1115.2 598.5L1120.4 596.1L1125.5 582.0L1130.6 582.9L1135.8 595.2L1140.9 637.7L1146.0 683.8L1151.1 685.0L1156.3 682.0L1161.4 684.7L1166.5 694.6L1171.7 670.6L1176.8 673.5L1181.9 667.0L1187.0 669.8L1192.2 670.6L1197.3 665.7L1202.4 665.1L1207.6 652.5L1212.7 657.6L1217.8 660.3L1223.0 654.3L1228.1 661.2L1233.2 657.9L1238.3 668.9L1243.5 664.4L1248.6 673.5L1253.7 667.0L1258.9 669.7L1264.0 656.3L1269.1 655.8L1274.2 659.0L1279.4 662.1L1284.5 658.1L1289.6 657.0L1294.8 640.4L1299.9 643.5L1305.0 643.5L1310.1 640.8L1315.3 666.6L1320.4 668.8L1325.5 657.6L1330.7 658.5" stroke="#9c27b0" stroke-width="1" fill="none" stroke-linejoin="round"/>
</g>
<path d="M9 26H1554V741H9zM10 27V740H1553V27z" fill="#eeeff1" fill-rule="evenodd"/>
<path d="M10 27H1553V740H10zM11 28V739H1552V28z" fill="rgba(238,239,241,0.5)" fill-rule="evenodd"/>
<text y="19.2" font-size="13" fill="#2a2e39" font-family="Liberation Sans, sans-serif"><tspan x="10.6" textLength="70.1" lengthAdjust="spacingAndGlyphs">lilitlindabrig1</tspan> <tspan x="86.5" textLength="49.9" lengthAdjust="spacingAndGlyphs">published</tspan> <tspan x="141.7" textLength="11.3" lengthAdjust="spacingAndGlyphs">on</tspan> <tspan x="158.4" textLength="93.3" lengthAdjust="spacingAndGlyphs">TradingView.com,</tspan> <tspan x="256.7" textLength="18.4" lengthAdjust="spacingAndGlyphs">Sep</tspan> <tspan x="280.2" textLength="14.9" lengthAdjust="spacingAndGlyphs">13,</tspan> <tspan x="299.9" textLength="23.5" lengthAdjust="spacingAndGlyphs">2021</tspan> <tspan x="329.3" textLength="28.2" lengthAdjust="spacingAndGlyphs">14:08</tspan> <tspan x="361.8" textLength="21.0" lengthAdjust="spacingAndGlyphs">UTC</tspan></text>
<text y="45.8" font-size="12.5" fill="#131722" font-family="Liberation Sans, sans-serif"><tspan x="18.6" textLength="35.3" lengthAdjust="spacingAndGlyphs">Bitcoin</tspan> <tspan x="61.1" textLength="3.2" lengthAdjust="spacingAndGlyphs">/</tspan> <tspan x="69.1" textLength="20.3" lengthAdjust="spacingAndGlyphs">U.S.</tspan> <tspan x="95.5" textLength="32.7" lengthAdjust="spacingAndGlyphs">Dollar,</tspan> <tspan x="133.6" textLength="15.2" lengthAdjust="spacingAndGlyphs">4h,</tspan> <tspan x="154.6" textLength="48.9" lengthAdjust="spacingAndGlyphs">BITSTAMP</tspan></text>
<text x="219.6" y="45.8" font-size="12" fill="#131722" font-family="Liberation Sans, sans-serif" text-anchor="end" textLength="8" lengthAdjust="spacingAndGlyphs">O</text>
<text x="220.5" y="45.8" font-size="12.5" fill="#ef5350" font-family="Liberation Sans, sans-serif" textLength="47.5" lengthAdjust="spacingAndGlyphs">44903.06</text>
<text x="283.4" y="45.8" font-size="12" fill="#131722" font-family="Liberation Sans, sans-serif" text-anchor="end" textLength="7.4" lengthAdjust="spacingAndGlyphs">H</text>
<text x="284.4" y="45.8" font-size="12.5" fill="#ef5350" font-family="Liberation Sans, sans-serif" textLength="47" lengthAdjust="spacingAndGlyphs">46895.82</text>
<text x="345" y="45.8" font-size="12" fill="#131722" font-family="Liberation Sans, sans-serif" text-anchor="end" textLength="5.6" lengthAdjust="spacingAndGlyphs">L</text>
<text x="345.8" y="45.8" font-size="12.5" fill="#ef5350" font-family="Liberation Sans, sans-serif" textLength="47" lengthAdjust="spacingAndGlyphs">44100.00</text>
<text x="407.8" y="45.8" font-size="12" fill="#131722" font-family="Liberation Sans, sans-serif" text-anchor="end" textLength="7.3" lengthAdjust="spacingAndGlyphs">C</text>
<text x="408.7" y="45.8" font-size="12.5" fill="#ef5350" font-family="Liberation Sans, sans-serif" textLength="47.5" lengthAdjust="spacingAndGlyphs">44885.99</text>
<text x="464.4" y="45.8" font-size="12.5" fill="#ef5350" font-family="Liberation Sans, sans-serif" textLength="34.6" lengthAdjust="spacingAndGlyphs">−29.52</text>
<text x="504.7" y="45.8" font-size="12.5" fill="#ef5350" font-family="Liberation Sans, sans-serif" textLength="43.8" lengthAdjust="spacingAndGlyphs">(−0.07%)</text>
<text x="18.6" y="62.8" font-size="12.5" fill="#131722" font-family="Liberation Sans, sans-serif" textLength="14.7" lengthAdjust="spacingAndGlyphs">Vol</text>
<text x="41.9" y="62.8" font-size="12.5" fill="#ef5350" font-family="Liberation Sans, sans-serif" textLength="18.3" lengthAdjust="spacingAndGlyphs">588</text>
<text y="79.6" font-size="12.5" fill="#131722" font-family="Liberation Sans, sans-serif"><tspan x="18.6" textLength="21.0" lengthAdjust="spacingAndGlyphs">EMA</tspan> <tspan x="44.9" textLength="18.8" lengthAdjust="spacingAndGlyphs">(20,</tspan> <tspan x="69.1" textLength="29.9" lengthAdjust="spacingAndGlyphs">close,</tspan> <tspan x="104.4" textLength="9.9" lengthAdjust="spacingAndGlyphs">0)</tspan></text>
<text x="122.5" y="79.6" font-size="12.5" fill="#1e3c9e" font-family="Liberation Sans, sans-serif" textLength="47.3" lengthAdjust="spacingAndGlyphs">45556.25</text>
<text y="96.6" font-size="12.5" fill="#131722" font-family="Liberation Sans, sans-serif"><tspan x="18.1" textLength="15.2" lengthAdjust="spacingAndGlyphs">MA</tspan> <tspan x="38.7" textLength="18.8" lengthAdjust="spacingAndGlyphs">(50,</tspan> <tspan x="62.5" textLength="30.3" lengthAdjust="spacingAndGlyphs">close,</tspan> <tspan x="97.8" textLength="10.2" lengthAdjust="spacingAndGlyphs">0)</tspan></text>
<text x="115.7" y="96.6" font-size="12.5" fill="#c62828" font-family="Liberation Sans, sans-serif" textLength="48.4" lengthAdjust="spacingAndGlyphs">47321.38</text>
<text y="547.5" font-size="12.5" fill="#131722" font-family="Liberation Sans, sans-serif"><tspan x="18.6" textLength="14.9" lengthAdjust="spacingAndGlyphs">RSI</tspan> <tspan x="39" textLength="19.2" lengthAdjust="spacingAndGlyphs">(14,</tspan> <tspan x="62.7" textLength="31.3" lengthAdjust="spacingAndGlyphs">close)</tspan></text>
<text x="102" y="547.5" font-size="12.5" fill="#9c27b0" font-family="Liberation Sans, sans-serif" textLength="28.8" lengthAdjust="spacingAndGlyphs">40.03</text>
<text x="1493.2" y="64.8" font-size="12.4" fill="#131722" font-family="Liberation Sans, sans-serif" textLength="48" lengthAdjust="spacingAndGlyphs">52000.00</text>
<text x="1493.2" y="99.9" font-size="12.4" fill="#131722" font-family="Liberation Sans, sans-serif" textLength="48" lengthAdjust="spacingAndGlyphs">51000.00</text>
<text x="1493.2" y="135.6" font-size="12.4" fill="#131722" font-family="Liberation Sans, sans-serif" textLength="48" lengthAdjust="spacingAndGlyphs">50000.00</text>
<text x="1493.2" y="172.0" font-size="12.4" fill="#131722" font-family="Liberation Sans, sans-serif" textLength="48" lengthAdjust="spacingAndGlyphs">49000.00</text>
<text x="1493.2" y="209.2" font-size="12.4" fill="#131722" font-family="Liberation Sans, sans-serif" textLength="48" lengthAdjust="spacingAndGlyphs">48000.00</text>
<text x="1493.2" y="247.2" font-size="12.4" fill="#131722" font-family="Liberation Sans, sans-serif" textLength="48" lengthAdjust="spacingAndGlyphs">47000.00</text>
<text x="1493.2" y="286.0" font-size="12.4" fill="#131722" font-family="Liberation Sans, sans-serif" textLength="48" lengthAdjust="spacingAndGlyphs">46000.00</text>
<text x="1493.2" y="349.9" font-size="12.4" fill="#131722" font-family="Liberation Sans, sans-serif" textLength="48" lengthAdjust="spacingAndGlyphs">44400.00</text>
<text x="1493.2" y="382.7" font-size="12.4" fill="#131722" font-family="Liberation Sans, sans-serif" textLength="48" lengthAdjust="spacingAndGlyphs">43600.00</text>
<text x="1493.2" y="414.0" font-size="12.4" fill="#131722" font-family="Liberation Sans, sans-serif" textLength="48" lengthAdjust="spacingAndGlyphs">42850.00</text>
<text x="1493.2" y="448.0" font-size="12.4" fill="#131722" font-family="Liberation Sans, sans-serif" textLength="48" lengthAdjust="spacingAndGlyphs">42050.00</text>
<text x="1493.2" y="482.6" font-size="12.4" fill="#131722" font-family="Liberation Sans, sans-serif" textLength="48" lengthAdjust="spacingAndGlyphs">41250.00</text>
<text x="1493.2" y="513.5" font-size="12.4" fill="#131722" font-family="Liberation Sans, sans-serif" textLength="48" lengthAdjust="spacingAndGlyphs">40550.00</text>
<text x="1493.2" y="573.0" font-size="12.4" fill="#131722" font-family="Liberation Sans, sans-serif" textLength="28.8" lengthAdjust="spacingAndGlyphs">80.00</text>
<text x="1493.2" y="618.0" font-size="12.4" fill="#131722" font-family="Liberation Sans, sans-serif" textLength="28.8" lengthAdjust="spacingAndGlyphs">60.00</text>
<text x="1493.2" y="663.0" font-size="12.4" fill="#131722" font-family="Liberation Sans, sans-serif" textLength="28.8" lengthAdjust="spacingAndGlyphs">40.00</text>
<text x="1493.2" y="708.0" font-size="12.4" fill="#131722" font-family="Liberation Sans, sans-serif" textLength="28.8" lengthAdjust="spacingAndGlyphs">20.00</text>
<rect x="1504.5" y="33.5" width="27" height="18" rx="3.5" fill="none" stroke="#e0e0e0" stroke-width="1"/>
<text x="1507.7" y="46.9" font-size="12" fill="#131722" font-family="Liberation Sans, sans-serif" textLength="20.3" lengthAdjust="spacingAndGlyphs">USD</text>
<rect x="1479" y="308" width="4" height="2" fill="#000"/>
<path d="M1483 301H1546a2 2 0 0 1 2 2V315.6a2 2 0 0 1 -2 2H1483z" fill="#000000"/>
<text x="1493" y="313.3" font-size="12" fill="#ffffff" font-family="Liberation Sans, sans-serif" font-weight="bold" textLength="48.2" lengthAdjust="spacingAndGlyphs">45314.07</text>
<path d="M1483 318.3H1546a2 2 0 0 1 2 2V332.7a2 2 0 0 1 -2 2H1483z" fill="#ef5350"/>
<text x="1493" y="330.5" font-size="12" fill="#ffffff" font-family="Liberation Sans, sans-serif" font-weight="bold" textLength="48.2" lengthAdjust="spacingAndGlyphs">44885.99</text>
<path d="M1483 378.4H1546a2 2 0 0 1 2 2V392.9a2 2 0 0 1 -2 2H1483z" fill="#000000"/>
<text x="1493" y="390.6" font-size="12" fill="#ffffff" font-family="Liberation Sans, sans-serif" font-weight="bold" textLength="48.2" lengthAdjust="spacingAndGlyphs">43424.93</text>
<path d="M1483 464.4H1546a2 2 0 0 1 2 2V478.9a2 2 0 0 1 -2 2H1483z" fill="#000000"/>
<text x="1493" y="476.7" font-size="12" fill="#ffffff" font-family="Liberation Sans, sans-serif" font-weight="bold" textLength="48.2" lengthAdjust="spacingAndGlyphs">41394.47</text>
<text x="84.3" y="729.8" font-size="12" fill="#131722" font-family="Liberation Sans, sans-serif" text-anchor="middle">4</text>
<text x="238.2" y="729.8" font-size="12" fill="#131722" font-family="Liberation Sans, sans-serif" text-anchor="middle">9</text>
<text x="330.5" y="729.8" font-size="12" fill="#131722" font-family="Liberation Sans, sans-serif" text-anchor="middle">12</text>
<text x="453.6" y="729.8" font-size="12" fill="#131722" font-family="Liberation Sans, sans-serif" text-anchor="middle">16</text>
<text x="545.9" y="729.8" font-size="12" fill="#131722" font-family="Liberation Sans, sans-serif" text-anchor="middle">19</text>
<text x="669.0" y="729.8" font-size="12" fill="#131722" font-family="Liberation Sans, sans-serif" text-anchor="middle">23</text>
<text x="761.3" y="729.8" font-size="12" fill="#131722" font-family="Liberation Sans, sans-serif" text-anchor="middle">26</text>
<text x="853.7" y="729.8" font-size="12" fill="#131722" font-family="Liberation Sans, sans-serif" text-anchor="middle">29</text>
<text x="946.0" y="729.8" font-size="12" fill="#131722" font-family="Liberation Sans, sans-serif" text-anchor="middle">Sep</text>
<text x="1099.9" y="729.8" font-size="12" fill="#131722" font-family="Liberation Sans, sans-serif" text-anchor="middle">6</text>
<text x="1192.2" y="729.8" font-size="12" fill="#131722" font-family="Liberation Sans, sans-serif" text-anchor="middle">9</text>
<text x="1315.3" y="729.8" font-size="12" fill="#131722" font-family="Liberation Sans, sans-serif" text-anchor="middle">13</text>
<text x="1407.6" y="729.8" font-size="12" fill="#131722" font-family="Liberation Sans, sans-serif" text-anchor="middle">16</text>
<path d="M10 752.1H17.9V761.8H14V755.9H10zM25.2 752.1H29.7L25.8 761.8H21.2z" fill="#131722"/><circle cx="21" cy="754.1" r="1.9" fill="#131722"/>
<text x="32.9" y="761.8" font-size="12.5" fill="#131722" font-family="Liberation Sans, sans-serif" textLength="70.7" lengthAdjust="spacingAndGlyphs">TradingView</text>
</svg>
</body></html>
